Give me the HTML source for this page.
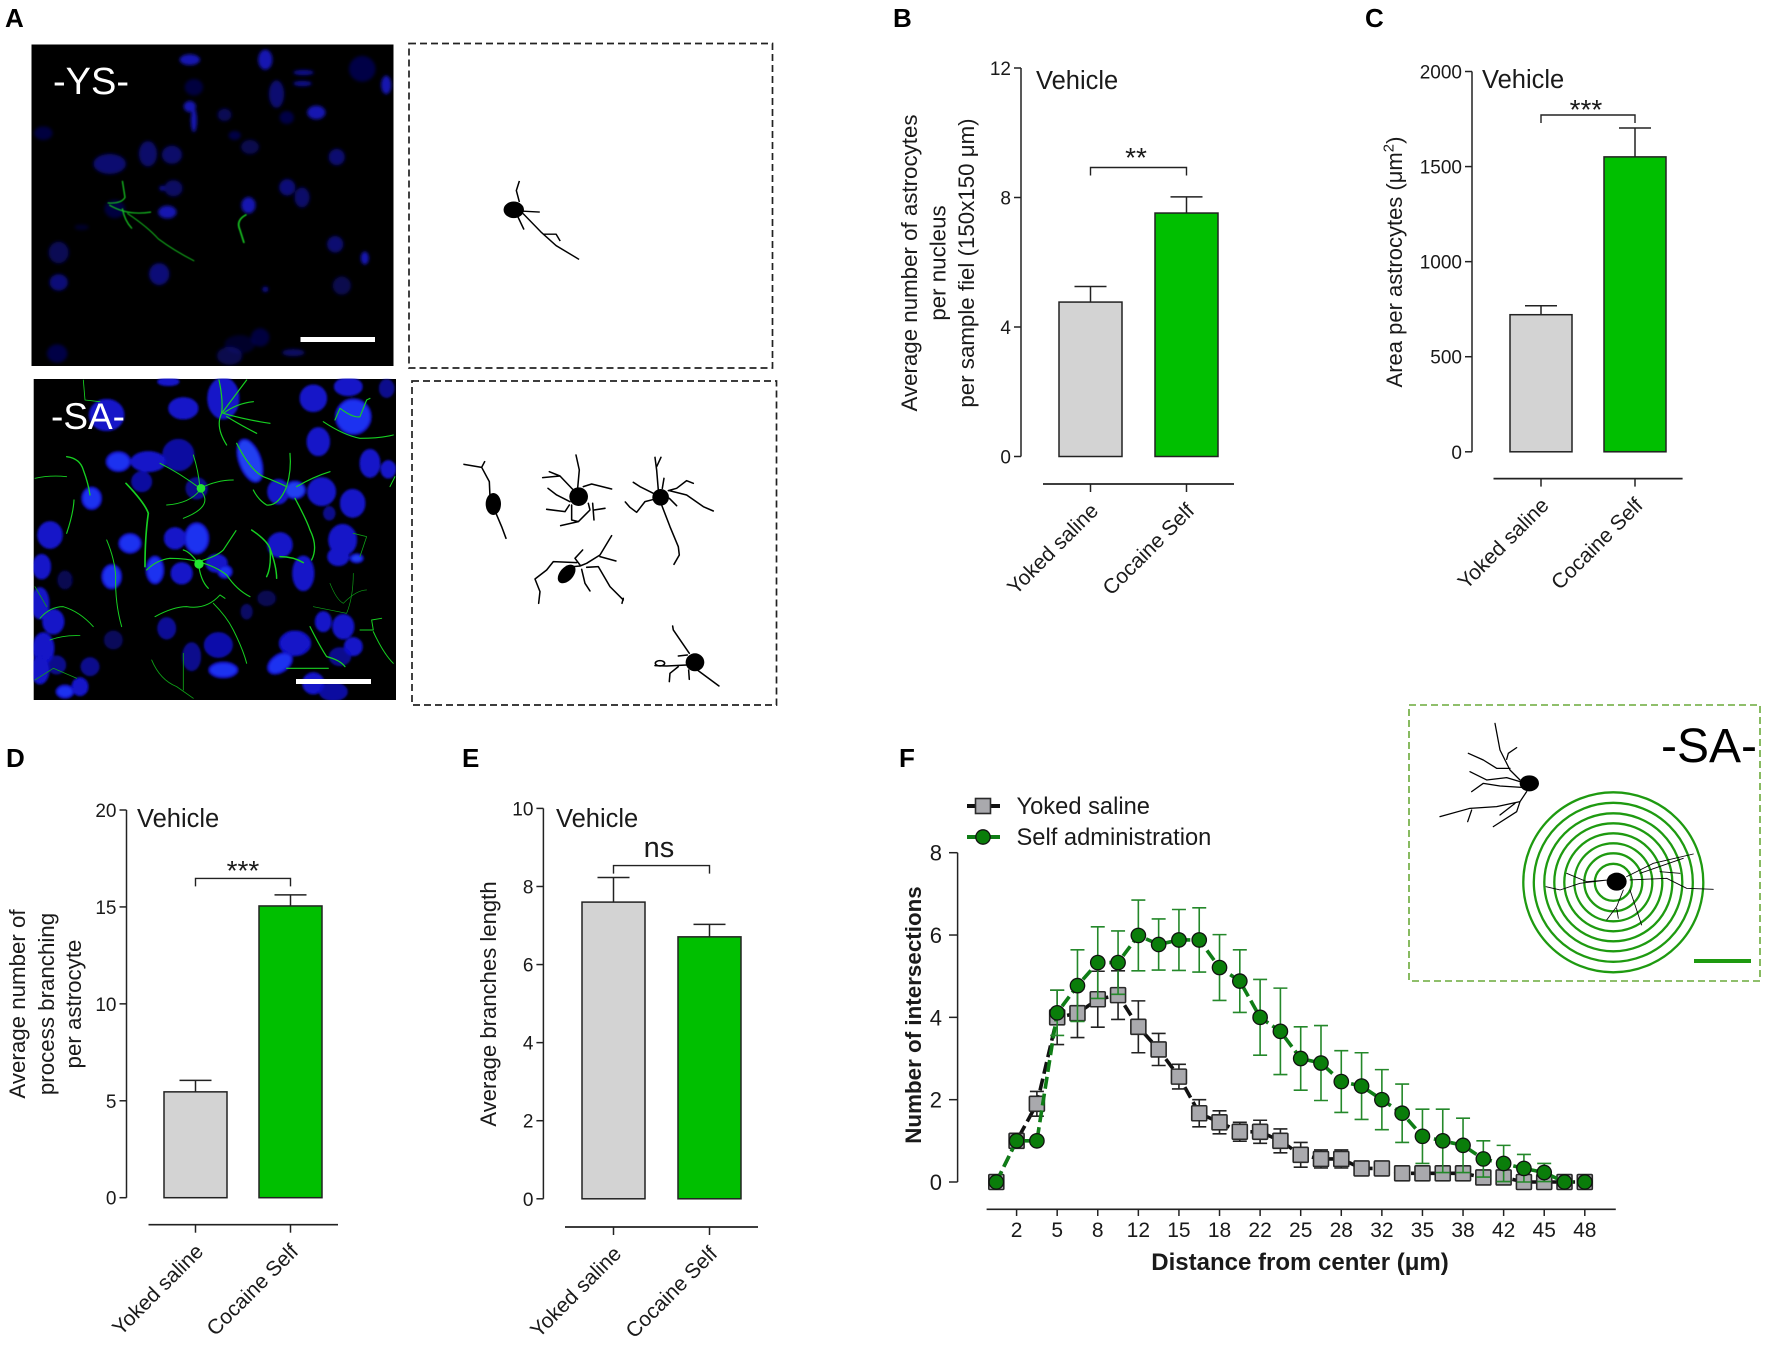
<!DOCTYPE html>
<html lang="en">
<head>
<meta charset="utf-8">
<title>Astrocyte morphology figure</title>
<style>
html,body{margin:0;padding:0;background:#fff;}
svg{display:block;font-family:"Liberation Sans",sans-serif;}
</style>
</head>
<body>
<svg id="fig" xmlns="http://www.w3.org/2000/svg" width="1772" height="1346" viewBox="0 0 1772 1346">
<defs>
<filter id="soft" x="-10%" y="-10%" width="120%" height="120%"><feGaussianBlur stdDeviation="3.2"/></filter>
<filter id="softer" x="-10%" y="-10%" width="120%" height="120%"><feGaussianBlur stdDeviation="1.1"/></filter>
<clipPath id="clipYS"><rect x="62" y="97" width="709" height="700"/></clipPath>
<clipPath id="clipSA"><rect x="41" y="27" width="1087" height="963"/></clipPath>
</defs>
<rect x="0" y="0" width="1772" height="1346" fill="#fff"/>

<g>
<rect x="31.5" y="44.5" width="362" height="321.5" fill="#000"/>
<g transform="scale(0.5102,0.4591)" clip-path="url(#clipYS)">
<g filter="url(#soft)" fill="#0c0c8c">
<ellipse cx="372" cy="130" rx="20" ry="12" fill="#1414b0"/><ellipse cx="520" cy="130" rx="14" ry="22" fill="#1414b0"/><ellipse cx="595" cy="158" rx="20" ry="6"/><ellipse cx="593" cy="182" rx="18" ry="6"/>
<ellipse cx="710" cy="150" rx="26" ry="28" opacity=".5"/><ellipse cx="542" cy="205" rx="15" ry="30" opacity=".8"/><ellipse cx="757" cy="185" rx="10" ry="20" fill="#1414b0"/><ellipse cx="380" cy="190" rx="18" ry="18" opacity=".45"/>
<ellipse cx="372" cy="232" rx="12" ry="12" fill="#1414b0"/><ellipse cx="380" cy="262" rx="6" ry="26" fill="#1414b0"/><ellipse cx="440" cy="250" rx="14" ry="14" opacity=".6"/><ellipse cx="562" cy="256" rx="14" ry="14" opacity=".5"/>
<ellipse cx="620" cy="245" rx="18" ry="15" fill="#1414b0"/><ellipse cx="85" cy="290" rx="18" ry="15" opacity=".45"/><ellipse cx="215" cy="357" rx="32" ry="22" opacity=".8"/><ellipse cx="290" cy="335" rx="18" ry="28" opacity=".75"/>
<ellipse cx="337" cy="337" rx="20" ry="20" opacity=".75"/><ellipse cx="460" cy="295" rx="12" ry="10" opacity=".5"/><ellipse cx="490" cy="320" rx="18" ry="16" opacity=".55"/><ellipse cx="660" cy="342" rx="16" ry="18" opacity=".8"/>
<ellipse cx="340" cy="410" rx="18" ry="18" opacity=".7"/><ellipse cx="318" cy="410" rx="6" ry="6"/><ellipse cx="563" cy="408" rx="16" ry="18" opacity=".85"/><ellipse cx="592" cy="430" rx="15" ry="22" opacity=".75"/>
<ellipse cx="225" cy="455" rx="20" ry="20" opacity=".45"/><ellipse cx="328" cy="462" rx="18" ry="14" fill="#1414b0"/><ellipse cx="487" cy="447" rx="14" ry="18" fill="#1414b0"/><ellipse cx="115" cy="550" rx="20" ry="24" opacity=".6"/>
<ellipse cx="312" cy="597" rx="20" ry="24" opacity=".85"/><ellipse cx="115" cy="615" rx="18" ry="18" opacity=".85"/><ellipse cx="657" cy="532" rx="16" ry="18" opacity=".8"/><ellipse cx="715" cy="562" rx="8" ry="14" fill="#1414b0"/>
<ellipse cx="670" cy="622" rx="18" ry="20" opacity=".55"/><ellipse cx="112" cy="770" rx="20" ry="20" opacity=".5"/><ellipse cx="450" cy="775" rx="25" ry="20" opacity=".55"/><ellipse cx="510" cy="735" rx="18" ry="20" opacity=".45"/>
<ellipse cx="575" cy="768" rx="22" ry="8" opacity=".7"/><ellipse cx="470" cy="750" rx="30" ry="20" opacity=".3"/><ellipse cx="520" cy="630" rx="6" ry="6"/><ellipse cx="160" cy="495" rx="14" ry="6" opacity=".3"/>
</g>
<g fill="none" stroke="#18c020" stroke-width="2.6" filter="url(#softer)" stroke-linecap="round">
<path d="M212,442 Q238,444 245,430 L240,395"/><path d="M215,447 Q250,470 295,462"/><path d="M240,455 Q244,480 258,497"/><path d="M250,465 Q290,495 310,520 Q340,545 380,568" stroke-width="2"/><path d="M482,468 Q462,480 470,500 L478,528" stroke-width="3.4"/>
</g>
</g>
<text x="53" y="94" font-size="38" fill="#fff">-YS-</text>
<rect x="300.5" y="337" width="74.5" height="5" fill="#fff"/>
</g>

<g>
<rect x="33.7" y="379" width="362.3" height="321" fill="#000"/>
<g transform="translate(20,370) scale(0.3333)" clip-path="url(#clipSA)">
<g filter="url(#soft)" fill="#1212c8" stroke="#1212c8" stroke-width="7">
<ellipse cx="490" cy="115" rx="42" ry="30"/><ellipse cx="610" cy="85" rx="45" ry="60"/><ellipse cx="880" cy="85" rx="38" ry="38"/><ellipse cx="985" cy="50" rx="40" ry="25"/><ellipse cx="1000" cy="140" rx="52" ry="52" fill="#1c30f0"/><ellipse cx="1100" cy="55" rx="20" ry="25" opacity=".7"/>
<ellipse cx="260" cy="135" rx="50" ry="45"/><ellipse cx="445" cy="35" rx="30" ry="10"/><ellipse cx="295" cy="275" rx="35" ry="28" fill="#1c30f0"/><ellipse cx="385" cy="275" rx="50" ry="28"/><ellipse cx="475" cy="255" rx="45" ry="45" opacity=".8"/><ellipse cx="365" cy="335" rx="28" ry="28" opacity=".8"/>
<ellipse cx="690" cy="272" rx="32" ry="66" transform="rotate(-20 690 272)" fill="#2040f0"/><ellipse cx="895" cy="215" rx="32" ry="40"/><ellipse cx="1050" cy="280" rx="28" ry="40"/><ellipse cx="1105" cy="298" rx="20" ry="24"/><ellipse cx="215" cy="385" rx="28" ry="32" fill="#1c30f0"/><ellipse cx="530" cy="355" rx="30" ry="30" opacity=".7"/>
<ellipse cx="775" cy="365" rx="30" ry="35"/><ellipse cx="825" cy="360" rx="30" ry="25" fill="#2040f0"/><ellipse cx="905" cy="365" rx="40" ry="40"/><ellipse cx="998" cy="400" rx="35" ry="40"/><ellipse cx="928" cy="430" rx="15" ry="18" opacity=".7"/><ellipse cx="90" cy="495" rx="35" ry="38"/>
<ellipse cx="330" cy="520" rx="32" ry="28" fill="#1c30f0"/><ellipse cx="465" cy="505" rx="30" ry="30"/><ellipse cx="530" cy="505" rx="35" ry="45" fill="#1c30f0"/><ellipse cx="780" cy="525" rx="35" ry="35"/><ellipse cx="968" cy="510" rx="40" ry="45"/><ellipse cx="1010" cy="565" rx="18" ry="12" fill="#2040f0"/>
<ellipse cx="65" cy="590" rx="25" ry="35"/><ellipse cx="135" cy="630" rx="20" ry="25" opacity=".4"/><ellipse cx="275" cy="620" rx="28" ry="35" fill="#1c30f0"/><ellipse cx="405" cy="600" rx="25" ry="40" fill="#1c30f0"/><ellipse cx="485" cy="610" rx="30" ry="30"/><ellipse cx="590" cy="580" rx="30" ry="25"/>
<ellipse cx="615" cy="605" rx="20" ry="18" fill="#1c30f0"/><ellipse cx="850" cy="610" rx="30" ry="50"/><ellipse cx="955" cy="560" rx="30" ry="25"/><ellipse cx="60" cy="700" rx="25" ry="45"/><ellipse cx="100" cy="755" rx="30" ry="35"/><ellipse cx="740" cy="685" rx="25" ry="20" opacity=".4"/>
<ellipse cx="680" cy="725" rx="15" ry="20" opacity=".5"/><ellipse cx="440" cy="775" rx="25" ry="30" opacity=".75"/><ellipse cx="280" cy="810" rx="25" ry="25" opacity=".45"/><ellipse cx="210" cy="890" rx="25" ry="25" opacity=".7"/><ellipse cx="595" cy="825" rx="40" ry="35" opacity=".85"/><ellipse cx="515" cy="860" rx="25" ry="40" opacity=".7"/>
<ellipse cx="610" cy="900" rx="42" ry="22" fill="#1c30f0"/><ellipse cx="825" cy="820" rx="45" ry="35"/><ellipse cx="780" cy="880" rx="40" ry="25" transform="rotate(-35 780 880)" fill="#1c30f0"/><ellipse cx="910" cy="755" rx="22" ry="28"/><ellipse cx="970" cy="770" rx="30" ry="35"/><ellipse cx="1000" cy="830" rx="25" ry="25"/>
<ellipse cx="960" cy="860" rx="30" ry="25" opacity=".7"/><ellipse cx="70" cy="835" rx="30" ry="45"/><ellipse cx="110" cy="885" rx="25" ry="25" opacity=".7"/><ellipse cx="60" cy="900" rx="25" ry="40"/><ellipse cx="180" cy="950" rx="22" ry="25"/><ellipse cx="135" cy="965" rx="25" ry="18" fill="#1c30f0"/>
<ellipse cx="880" cy="940" rx="30" ry="30"/><ellipse cx="940" cy="965" rx="40" ry="25" opacity=".8"/>
</g>
<g fill="none" stroke="#18d020" stroke-width="3.6" filter="url(#softer)" stroke-linecap="round" stroke-linejoin="round">
<path d="M597,30 Q610,90 605,130 Q585,170 620,225"/><path d="M605,130 Q650,70 680,30"/><path d="M610,130 Q650,100 700,95 M610,130 Q680,150 750,160 M620,140 Q670,170 710,190"/><path d="M650,220 Q690,300 730,320 Q770,335 800,350 Q775,410 740,405 Q715,390 700,360"/><path d="M800,350 Q815,300 810,250 M830,350 Q880,320 930,305"/><path d="M825,385 Q860,450 870,480 Q895,530 875,570" stroke-width="4"/>
<path d="M540,355 Q480,310 420,280 M540,355 Q535,300 520,255 M540,355 Q590,330 640,330 M540,360 Q510,400 440,405 M545,365 Q580,410 490,445" stroke-width="3"/><circle cx="543" cy="355" r="13" fill="#20e030" stroke="none"/>
<path d="M318,340 Q375,400 385,430 Q375,500 375,590" stroke-width="5"/><path d="M140,260 Q180,265 190,300 Q205,340 210,375" stroke-width="4"/><path d="M45,325 Q90,315 140,320" stroke-width="2.6"/><path d="M162,390 Q160,430 140,490" stroke-width="3.4"/>
<path d="M260,510 Q285,570 287,620 Q285,700 305,770" stroke-width="3"/><path d="M380,600 Q410,570 450,565 Q500,565 535,575 Q590,560 610,540 L648,482 M535,575 Q540,630 565,655 M535,575 Q590,590 620,615 Q650,660 690,680 M535,580 Q510,545 490,540" stroke-width="3.6"/><circle cx="537" cy="582" r="14" fill="#20e830" stroke="none"/>
<path d="M695,480 Q740,510 750,535 Q770,590 770,625 M750,535 Q755,590 740,620 M780,560 Q820,560 850,578" stroke-width="4.4"/><path d="M405,740 Q460,710 500,710 Q560,720 600,675 L615,685 M580,700 Q620,740 640,780 Q670,840 680,880" stroke-width="3"/><path d="M60,745 Q90,710 130,710 Q180,725 220,770" stroke-width="2.8"/><path d="M90,810 Q130,795 180,797" stroke-width="2.4"/>
<path d="M870,770 Q900,830 920,860 Q960,870 975,890 M800,895 L925,895" stroke-width="3.6"/><path d="M1020,780 L1060,780 L1055,750 L1085,745 M1060,785 Q1090,850 1120,880" stroke-width="3"/><path d="M910,155 Q970,195 1020,205 Q1080,205 1120,195 M945,150 L960,115 Q1000,145 1020,140 L1040,90 L1050,85" stroke-width="3.4"/>
<path d="M395,870 Q420,930 470,950 L520,985 M490,960 L490,850" stroke-width="2.6" stroke="#10a018"/><path d="M190,30 L195,90 L240,95" stroke-width="2.6"/><path d="M930,640 Q950,690 970,700 Q1010,660 1040,660 M880,710 L980,730 Q1000,680 1000,610" stroke-width="2" stroke="#10a018"/><path d="M1000,490 L1040,500 L1020,560" stroke-width="2.4" stroke="#10a018"/><path d="M45,650 L80,710 M45,930 L100,895 L170,925" stroke-width="2.4" stroke="#10a018"/><path d="M1110,350 L1125,320" stroke-width="3"/>
</g>
</g>
<text x="51" y="429" font-size="37" fill="#fff">-SA-</text>
<rect x="296" y="679" width="75" height="5" fill="#fff"/>
</g>

<rect x="409" y="43.5" width="363.5" height="324.5" fill="none" stroke="#222" stroke-width="1.7" stroke-dasharray="7 4"/>
<g transform="scale(0.5102,0.4591)" fill="none" stroke="#000" stroke-width="3" stroke-linejoin="round">
<ellipse cx="1007" cy="457" rx="20" ry="18" fill="#000" stroke="none"/>
<path d="M1018,440 L1012,415 L1018,394 M1025,460 L1058,462 M1015,472 L1027,500 M1025,465 L1060,505 L1090,535 L1135,565 M1065,510 L1090,510 L1098,525"/>
</g>

<rect x="412" y="381" width="364.5" height="324" fill="none" stroke="#222" stroke-width="1.7" stroke-dasharray="7 4"/>
<g transform="translate(410,370) scale(0.3333)" fill="none" stroke="#000" stroke-width="4.6" stroke-linecap="round" stroke-linejoin="round">
<ellipse cx="250" cy="402" rx="23" ry="33" fill="#000" stroke="none"/>
<path d="M240,380 L238,335 L215,292 L162,283 M215,292 L224,275 M258,430 L275,470 L288,505"/>
<ellipse cx="506" cy="380" rx="28" ry="28" fill="#000" stroke="none"/>
<path d="M503,355 L508,300 L498,255 M490,360 L450,318 L418,305 M450,318 L398,323 M480,395 L440,375 L414,355 M478,405 L465,425 L410,418 M485,405 L485,450 L505,455 L540,420 L535,400 M505,455 L452,467 M548,400 L552,450 M552,420 L585,415 M520,350 L545,342 L605,357"/>
<ellipse cx="752" cy="382" rx="25" ry="25" fill="#000" stroke="none"/>
<path d="M745,360 L740,300 L735,262 M740,290 L753,262 M757,355 L762,325 M730,370 L690,350 L670,337 M732,388 L705,395 L680,427 L660,412 L646,396 M775,362 L800,355 L830,332 L850,340 M778,362 L830,375 L880,410 L910,423 M755,405 L780,470 L805,530 L808,555 L792,583 M778,385 L800,407"/>
<ellipse cx="470" cy="612" rx="20" ry="33" transform="rotate(42 470 612)" fill="#000" stroke="none"/>
<path d="M490,590 L510,588 L530,580 L570,555 L605,497 M570,560 L618,573 M510,585 L495,565 L518,540 M500,578 L430,575 L410,600 L375,627 L390,665 L386,700 M515,598 L525,640 L540,663 M530,592 L565,590 L600,650 L640,690 M640,685 L636,700"/>
<ellipse cx="855" cy="877" rx="28" ry="27" fill="#000" stroke="none"/>
<path d="M838,850 L790,780 L788,768 M832,855 L805,858 M830,885 L770,888 L735,887 M805,890 L780,910 L778,935 M836,900 L838,928 M862,900 L927,948"/><ellipse cx="750" cy="880" rx="14" ry="8"/>
</g>

<g>
<rect x="1409" y="705" width="351" height="276" fill="none" stroke="#6aaa3a" stroke-width="1.6" stroke-dasharray="7 4"/>
<text x="1661" y="762" font-size="48" fill="#000">-SA-</text>
<g fill="none" stroke="#1e9a10" stroke-width="2.3">
<circle cx="1613.3" cy="882.3" r="90"/><circle cx="1613.3" cy="882.3" r="79.5"/><circle cx="1613.3" cy="882.3" r="69"/><circle cx="1613.3" cy="882.3" r="59"/><circle cx="1613.3" cy="882.3" r="49"/><circle cx="1613.3" cy="882.3" r="39"/><circle cx="1613.3" cy="882.3" r="29"/><circle cx="1613.3" cy="882.3" r="18.5"/>
</g>
<g transform="translate(1400,700) scale(0.3333)" fill="none" stroke="#000" stroke-width="3.8" stroke-linecap="round" stroke-linejoin="round">
<ellipse cx="388" cy="250" rx="29" ry="24" fill="#000" stroke="none"/>
<path d="M360,240 L330,210 L300,150 L285,70 M330,205 L290,205 L250,180 L205,160 M320,178 L325,160 L350,143 M360,245 L320,233 L260,240 L210,215 M365,262 L300,258 L250,250 L215,275 M380,275 L360,305 L290,320 L210,325 L120,350 M215,330 L203,365 M360,305 L350,335 L280,380 M345,310 L300,345"/>
<ellipse cx="650" cy="545" rx="30" ry="27" fill="#000" stroke="none"/>
<path stroke-width="2.6" d="M625,540 L560,545 L500,520 M625,540 L540,550 L480,570 L438,560 M680,530 L760,490 L880,462 M720,520 L850,475 M780,515 L840,520 M690,540 L800,535 L860,565 L940,568 M670,570 L650,620 L620,660 M650,625 L655,655 M690,570 L725,675"/>
</g>
<rect x="1694" y="959" width="57" height="4" fill="#1e9a10"/>
</g>

<g font-size="26" font-weight="bold" fill="#000">
<text x="5" y="27">A</text>
<text x="893" y="27">B</text>
<text x="1365" y="27">C</text>
<text x="6" y="767">D</text>
<text x="462" y="767">E</text>
<text x="899" y="767">F</text>
</g>
<g id="charts"></g>
</svg>
<script>
const barCategories = ['Yoked saline', 'Cocaine Self'];
const barSeriesNames = ['yoked', 'cocaine'];

const panelBValues = [4.77, 7.52];
const panelBErrors = [0.48, 0.5];
const panelBTicks = [0, 4, 8, 12];
const panelBLabels = ['Average number of astrocytes', 'per nucleus', 'per sample fiel (150x150 \u03bcm)'];

const panelCValues = [721, 1551];
const panelCErrors = [47, 152];
const panelCTicks = [0, 500, 1000, 1500, 2000];
const panelCLabels = ['Area per astrocytes (\u03bcm\u00b2)'];

const panelDValues = [5.46, 15.05];
const panelDErrors = [0.59, 0.57];
const panelDTicks = [0, 5, 10, 15, 20];
const panelDLabels = ['Average number of', 'process branching', 'per astrocyte'];

const panelEValues = [7.6, 6.71];
const panelEErrors = [0.63, 0.32];
const panelETicks = [0, 2, 4, 6, 8, 10];
const panelELabels = ['Average branches length'];

const shollTickLabels = ['2', '5', '8', '12', '15', '18', '22', '25', '28', '32', '35', '38', '42', '45', '48'];
const shollYTicks = [0, 2, 4, 6, 8];
const yokedMeans = [0, 1, 1.9, 4, 4.1, 4.44, 4.54, 3.77, 3.22, 2.56, 1.67, 1.45, 1.22, 1.22, 1, 0.66, 0.56, 0.56, 0.33, 0.33, 0.21, 0.21, 0.21, 0.21, 0.11, 0.11, 0, 0, 0, 0];
const yokedErrors = [0, 0, 0.3, 0.66, 0.59, 0.68, 0.59, 0.63, 0.39, 0.3, 0.33, 0.28, 0.23, 0.28, 0.29, 0.3, 0.22, 0.22, 0.05, 0.05, 0.05, 0.05, 0.05, 0.05, 0.05, 0.05, 0.05, 0.05, 0, 0];
const selfMeans = [0, 1, 1, 4.11, 4.77, 5.33, 5.33, 5.99, 5.77, 5.88, 5.88, 5.21, 4.88, 4, 3.66, 3, 2.89, 2.44, 2.33, 2, 1.67, 1.11, 1, 0.89, 0.56, 0.45, 0.33, 0.23, 0, 0];
const selfErrors = [0, 0, 0, 0.55, 0.87, 0.87, 0.77, 0.86, 0.62, 0.74, 0.78, 0.8, 0.76, 0.92, 1.05, 0.77, 0.91, 0.75, 0.81, 0.73, 0.71, 0.66, 0.77, 0.66, 0.44, 0.44, 0.34, 0.22, 0, 0];

const NS = 'http://www.w3.org/2000/svg';
const root = document.getElementById('charts');

function mk(parent, tag, attrs) {
  const el = document.createElementNS(NS, tag);
  for (const k in attrs) el.setAttribute(k, attrs[k]);
  parent.appendChild(el);
  return el;
}
function line(parent, x1, y1, x2, y2, stroke, width) {
  return mk(parent, 'line', { x1: x1, y1: y1, x2: x2, y2: y2, stroke: stroke, 'stroke-width': width });
}
function label(parent, x, y, str, size, anchor, opts) {
  const o = opts || {};
  const a = { x: x, y: y, 'font-size': size, 'text-anchor': anchor, fill: '#1a1a1a' };
  if (o.rotate !== undefined) a.transform = 'rotate(' + o.rotate + ' ' + x + ' ' + y + ')';
  if (o.weight) a['font-weight'] = o.weight;
  const el = mk(parent, 'text', a);
  const parts = str.split('\u00b2');
  if (parts.length === 2) {
    el.appendChild(document.createTextNode(parts[0]));
    const sup = mk(el, 'tspan', { 'font-size': size * 0.68, dy: -size * 0.38 });
    sup.textContent = '2';
    const rest = mk(el, 'tspan', { dy: size * 0.38 });
    rest.textContent = parts[1];
  } else {
    el.textContent = str;
  }
  return el;
}

function drawBarPanel(name, values, errors, ticks, yLabels, L) {
  const g = mk(root, 'g', {});
  
  
  const yMax = ticks[ticks.length - 1];
  const yScale = function (v) { return L.y0 - (v / yMax) * (L.y0 - L.yTop); };
  const xScale = function (i) { return L.cx0 + i * (L.cx1 - L.cx0); };

  const axis = line(g, L.axisX, L.yTop, L.axisX, L.y0, '#222', 1.5);
  
  
  ticks.forEach(function (t) {
    const tk = line(g, L.axisX - 7, yScale(t), L.axisX, yScale(t), '#222', 1.5);
    
    
    const tl = label(g, L.axisX - 10, yScale(t) + 7, String(t), 19, 'end');
    
    
  });

  values.forEach(function (v, i) {
    const cx = xScale(i);
    const top = yScale(v);
    const err = mk(g, 'path', {
      d: 'M' + cx + ',' + top + ' V' + yScale(v + errors[i]) + ' M' + (cx - 16) + ',' + yScale(v + errors[i]) + ' H' + (cx + 16),
      fill: 'none', stroke: '#222', 'stroke-width': 1.5
    });
    
    
    const bar = mk(g, 'rect', {
      x: cx - L.barW / 2, y: top, width: L.barW, height: L.y0 - top,
      fill: i === 0 ? '#d3d3d3' : '#00bf00', stroke: '#222', 'stroke-width': 1.5
    });
    
    
    const tk = line(g, cx, L.xAxisY, cx, L.xAxisY + 8, '#222', 1.5);
    
    
    const cat = label(g, cx + 9, L.xAxisY + 28, barCategories[i], 21, 'end', { rotate: -45 });
    
    
  });

  const xa = line(g, L.xAxisL, L.xAxisY, L.xAxisR, L.xAxisY, '#222', 1.7);
  
  

  const br = mk(g, 'path', {
    d: 'M' + L.cx0 + ',' + (L.brY + 8) + ' V' + L.brY + ' H' + L.cx1 + ' V' + (L.brY + 8),
    fill: 'none', stroke: '#222', 'stroke-width': 1.4
  });
  
  
  const sig = label(g, L.sigX, L.sigY, L.sig, L.sigSize, 'middle');
  
  

  const veh = label(g, L.vehX, L.vehY, 'Vehicle', 25.5, 'start');
  
  

  yLabels.forEach(function (t, i) {
    const yl = label(g, L.labelX[i], L.labelY, t, L.labelSize, 'middle', { rotate: -90 });
    
    
  });
}

drawBarPanel('panel-b-chart', panelBValues, panelBErrors, panelBTicks, panelBLabels, {
  axisX: 1021, yTop: 68, y0: 456.5, cx0: 1090.5, cx1: 1186.5, barW: 63,
  xAxisY: 484, xAxisL: 1043, xAxisR: 1234, brY: 167.5, sig: '**', sigX: 1136, sigY: 167, sigSize: 28,
  vehX: 1036, vehY: 89, labelX: [917, 945.5, 974], labelY: 263, labelSize: 22.3
});
drawBarPanel('panel-c-chart', panelCValues, panelCErrors, panelCTicks, panelCLabels, {
  axisX: 1472, yTop: 71.5, y0: 451.8, cx0: 1541, cx1: 1635, barW: 62,
  xAxisY: 478.6, xAxisL: 1493.5, xAxisR: 1682.6, brY: 115, sig: '***', sigX: 1586, sigY: 119, sigSize: 28,
  vehX: 1482, vehY: 88, labelX: [1402], labelY: 262, labelSize: 22
});
drawBarPanel('panel-d-chart', panelDValues, panelDErrors, panelDTicks, panelDLabels, {
  axisX: 126.5, yTop: 810, y0: 1197.7, cx0: 195.5, cx1: 290.5, barW: 63,
  xAxisY: 1224.7, xAxisL: 148.5, xAxisR: 338, brY: 878.4, sig: '***', sigX: 243, sigY: 880, sigSize: 28,
  vehX: 137, vehY: 827, labelX: [25, 54, 81], labelY: 1004, labelSize: 22.3
});
drawBarPanel('panel-e-chart', panelEValues, panelEErrors, panelETicks, panelELabels, {
  axisX: 543.4, yTop: 808.4, y0: 1198.8, cx0: 613.5, cx1: 709.5, barW: 63,
  xAxisY: 1227, xAxisL: 565, xAxisR: 758, brY: 865.6, sig: 'ns', sigX: 659, sigY: 857, sigSize: 29,
  vehX: 556, vehY: 827, labelX: [496], labelY: 1004, labelSize: 22.1
});

(function drawSholl() {
  const g = mk(root, 'g', {});
  
  
  const y0 = 1182, yTop = 852.7, yMax = shollYTicks[shollYTicks.length - 1];
  const yScale = function (v) { return y0 - (v / yMax) * (y0 - yTop); };
  const xStart = 996.3, xEnd = 1584.8, nSteps = yokedMeans.length - 1;
  const xScale = function (i) { return xStart + i * (xEnd - xStart) / nSteps; };

  const ya = line(g, 957.6, yTop, 957.6, y0, '#222', 1.5);
  
  
  shollYTicks.forEach(function (t) {
    const tk = line(g, 949, yScale(t), 957.6, yScale(t), '#222', 1.5);
    
    
    const tl = label(g, 942, yScale(t) + 8, String(t), 22, 'end');
    
    
  });
  const xa = line(g, 986.6, 1209.3, 1615.8, 1209.3, '#222', 1.7);
  
  
  shollTickLabels.forEach(function (t, k) {
    const x = xScale(2 * k + 1);
    const tk = line(g, x, 1209.3, x, 1216, '#222', 1.5);
    
    
    const tl = label(g, x, 1237, t, 21, 'middle');
    
    
  });

  function pathOf(vals) {
    return vals.map(function (v, i) { return (i ? 'L' : 'M') + xScale(i) + ',' + yScale(v); }).join(' ');
  }
  function errPath(vals, errs) {
    let d = '';
    vals.forEach(function (v, i) {
      if (!errs[i]) return;
      const x = xScale(i);
      const t = yScale(v + errs[i]);
      const b = yScale(Math.max(0, v - errs[i]));
      d += 'M' + x + ',' + t + ' V' + b + ' M' + (x - 7) + ',' + t + ' H' + (x + 7) + ' M' + (x - 7) + ',' + b + ' H' + (x + 7) + ' ';
    });
    return d;
  }

  const yLine = mk(g, 'path', { d: pathOf(yokedMeans), fill: 'none', stroke: '#111', 'stroke-width': 3.6, 'stroke-dasharray': '12 5' });
  
  
  const yErr = mk(g, 'path', { d: errPath(yokedMeans, yokedErrors), fill: 'none', stroke: '#222', 'stroke-width': 1.6 });
  
  
  yokedMeans.forEach(function (v, i) {
    const s = mk(g, 'rect', { x: xScale(i) - 7.5, y: yScale(v) - 7.5, width: 15, height: 15, rx: 1, fill: '#a9a9ad', stroke: '#2a2a2a', 'stroke-width': 1.6 });
    
    
  });

  const sLine = mk(g, 'path', { d: pathOf(selfMeans), fill: 'none', stroke: '#0f7d16', 'stroke-width': 3.6, 'stroke-dasharray': '12 5' });
  
  
  const sErr = mk(g, 'path', { d: errPath(selfMeans, selfErrors), fill: 'none', stroke: '#24882a', 'stroke-width': 1.6 });
  
  
  selfMeans.forEach(function (v, i) {
    const c = mk(g, 'circle', { cx: xScale(i), cy: yScale(v), r: 7.2, fill: '#0a7d0a', stroke: '#111', 'stroke-width': 1.3 });
    
    
  });

  const ty = label(g, 921, 1015, 'Number of intersections', 22.4, 'middle', { rotate: -90, weight: 'bold' });
  
  
  const tx = label(g, 1300, 1270, 'Distance from center (\u03bcm)', 24, 'middle', { weight: 'bold' });
  
  

  const lg = mk(g, 'g', {});
  
  
  const l1 = line(lg, 967, 806, 1000, 806, '#111', 4);
  
  
  const ls = mk(lg, 'rect', { x: 975.5, y: 798.5, width: 15, height: 15, fill: '#a9a9ad', stroke: '#2a2a2a', 'stroke-width': 1.6 });
  
  
  const lt1 = label(lg, 1016.5, 814, 'Yoked saline', 23.7, 'start');
  
  
  const l2 = line(lg, 967, 837, 1000, 837, '#0f7d16', 4);
  
  
  const lc = mk(lg, 'circle', { cx: 983, cy: 837, r: 7.2, fill: '#0a7d0a', stroke: '#111', 'stroke-width': 1.3 });
  
  
  const lt2 = label(lg, 1016.5, 845, 'Self administration', 23.7, 'start');
  
  
})();
</script>
</body>
</html>
